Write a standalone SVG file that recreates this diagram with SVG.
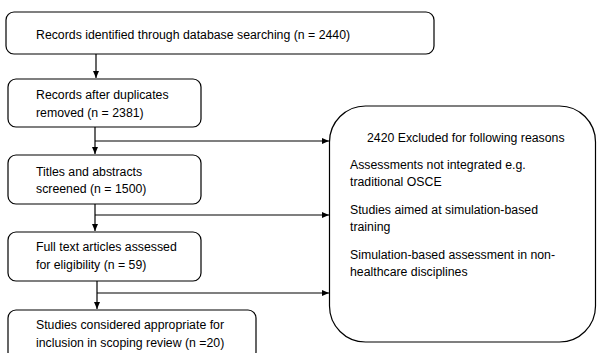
<svg xmlns="http://www.w3.org/2000/svg" width="598" height="353" viewBox="0 0 598 353">
<style>
.box{fill:#fff;stroke:#000;stroke-width:1.2}
.t{font-family:"Liberation Sans",Arial,sans-serif;font-size:12.3px;fill:#000}
.c{fill:none;stroke:#000;stroke-width:1.2}
</style>
<defs>
<marker id="ah" markerWidth="8" markerHeight="8" refX="7" refY="4" orient="auto" markerUnits="userSpaceOnUse">
<path d="M0,1 L7,4 L0,7 Z" fill="#000"/>
</marker>
</defs>
<rect width="598" height="353" fill="#fff"/>
<g id="connectors">
<path class="c" d="M96,54 V78" marker-end="url(#ah)"/>
<path class="c" d="M95,127 V154" marker-end="url(#ah)"/>
<path class="c" d="M95,141 H329" marker-end="url(#ah)"/>
<path class="c" d="M95,204 V231" marker-end="url(#ah)"/>
<path class="c" d="M95,215 H329" marker-end="url(#ah)"/>
<path class="c" d="M97,281 V309" marker-end="url(#ah)"/>
<path class="c" d="M97,293 H329" marker-end="url(#ah)"/>
</g>
<g id="n1">
<rect class="box" x="6" y="12" width="428" height="42" rx="8"/>
<text class="t" x="36" y="39">Records identified through database searching (n = 2440)</text>
</g>
<g id="n2">
<rect class="box" x="8" y="79" width="193" height="48" rx="8"/>
<text class="t" x="36" y="99">Records after duplicates</text>
<text class="t" x="36" y="117">removed (n = 2381)</text>
</g>
<g id="n3">
<rect class="box" x="8" y="155" width="193" height="49" rx="8"/>
<text class="t" x="36" y="176">Titles and abstracts</text>
<text class="t" x="36" y="193">screened (n = 1500)</text>
</g>
<g id="n4">
<rect class="box" x="8" y="232" width="193" height="49" rx="8"/>
<text class="t" x="36" y="251">Full text articles assessed</text>
<text class="t" x="36" y="269">for eligibility (n = 59)</text>
</g>
<g id="n5">
<rect class="box" x="8" y="310" width="248" height="50" rx="8"/>
<text class="t" x="36" y="329">Studies considered appropriate for</text>
<text class="t" x="36" y="347">inclusion in scoping review (n =20)</text>
</g>
<g id="excluded">
<rect class="box" x="329.5" y="106" width="266" height="236" rx="36"/>
<text class="t" x="367" y="142">2420 Excluded for following reasons</text>
<text class="t" x="350" y="169">Assessments not integrated e.g.</text>
<text class="t" x="350" y="186">traditional OSCE</text>
<text class="t" x="350" y="214">Studies aimed at simulation-based</text>
<text class="t" x="350" y="231">training</text>
<text class="t" x="350" y="259">Simulation-based assessment in non-</text>
<text class="t" x="350" y="276">healthcare disciplines</text>
</g>
</svg>
